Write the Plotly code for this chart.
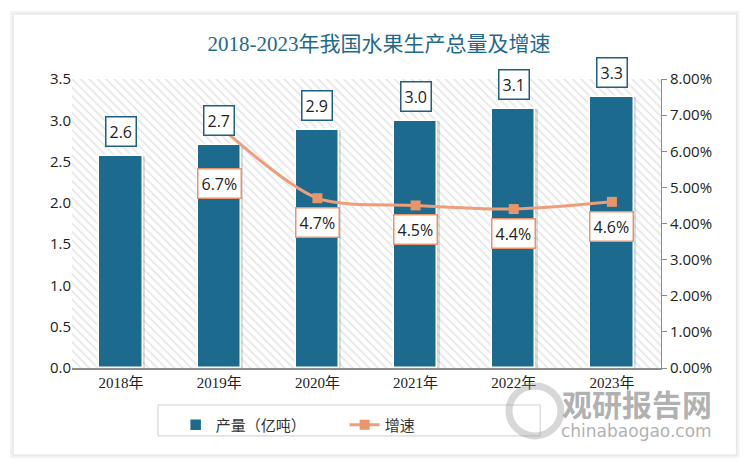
import plotly.graph_objects as go

years = ["2018年", "2019年", "2020年", "2021年", "2022年", "2023年"]
output = [2.57, 2.70, 2.88, 2.99, 3.14, 3.28]          # 产量（亿吨）
growth = [None, 6.7, 4.7, 4.5, 4.4, 4.6]               # 增速 (%)
y_max = 3.5
y2_max = 8.0

BLUE = "#1C6B8F"
ORANGE = "#EE9E7A"
ORANGE_DARK = "#E8956C"

fig = go.Figure()

# hatched plot background
fig.add_trace(go.Bar(
    x=years, y=[y_max] * len(years), width=1,
    marker=dict(color="white", line=dict(width=0),
                pattern=dict(shape="\\", fgcolor="#cdcdcd", bgcolor="white", size=6, solidity=0.3)),
    showlegend=False, hoverinfo="skip"))

# soft bar shadow
fig.add_trace(go.Bar(
    x=years, y=output, width=0.47, offset=-0.225,
    marker=dict(color="rgba(0,0,0,0.13)", line=dict(width=0)),
    showlegend=False, hoverinfo="skip"))

fig.add_trace(go.Bar(
    x=years, y=output, width=0.44, name="产量（亿吨）",
    marker=dict(color=BLUE, line=dict(color="white", width=1.5))))

fig.add_trace(go.Scatter(
    x=years, y=growth, yaxis="y2", name="增速", mode="lines+markers",
    line=dict(color=ORANGE, width=3, shape="spline", smoothing=0.8),
    marker=dict(symbol="square", size=10, color=ORANGE_DARK),
    connectgaps=False))

annotations = []
for x, v in zip(years, output):
    annotations.append(dict(
        x=x, y=v, xref="x", yref="y", text=f"{v:.1f}", showarrow=False,
        yanchor="bottom", yshift=9, bgcolor="white", bordercolor="#1F5F7F",
        borderwidth=1.5, borderpad=3,
        font=dict(family="Open Sans, Liberation Sans", size=16, color="#222")))
for x, g in zip(years, growth):
    if g is None:
        continue
    annotations.append(dict(
        x=x, y=g, xref="x", yref="y2", text=f"{g:.1f}%", showarrow=False,
        yanchor="top", yshift=-9 if x != "2019年" else -42,
        bgcolor="white", bordercolor=ORANGE_DARK,
        borderwidth=1.5, borderpad=3,
        font=dict(family="Open Sans, Liberation Sans", size=16, color="#222")))

# watermark
annotations.append(dict(xref="paper", yref="paper", x=1.09, y=-0.121, text="<b>观研报告网</b>",
                        showarrow=False, xanchor="right", yanchor="middle",
                        font=dict(family="Noto Sans CJK SC", size=30, color="rgba(110,110,110,0.55)")))
annotations.append(dict(xref="paper", yref="paper", x=1.09, y=-0.218, text="chinabaogao.com",
                        showarrow=False, xanchor="right", yanchor="middle",
                        font=dict(family="DejaVu Sans", size=17, color="rgba(110,110,110,0.55)")))

shapes = [
    dict(type="rect", xref="paper", yref="paper", x0=-0.1, x1=1.128, y0=-0.301, y1=1.225,
         line=dict(color="rgba(0,0,0,0.05)", width=6), fillcolor="rgba(0,0,0,0)", layer="below"),
    dict(type="rect", xref="paper", yref="paper", x0=-0.1, x1=1.128, y0=-0.301, y1=1.225,
         line=dict(color="#e2e2e2", width=1), fillcolor="white", layer="below"),
    # legend frame
    dict(type="rect", xref="paper", yref="paper", x0=0.146, x1=0.795, y0=-0.235, y1=-0.128,
         line=dict(color="#cfcfcf", width=1), fillcolor="rgba(0,0,0,0)"),
    # watermark logo
    dict(type="circle", xref="paper", yref="paper", x0=0.742, x1=0.830, y0=-0.235, y1=-0.062,
         line=dict(color="rgba(140,140,140,0.35)", width=7)),
]

# The page body has an 8px margin, so the figure is sized to fit inside the window.
fig.update_layout(
    width=742, height=463,
    margin=dict(l=64, r=89, t=71, b=103),
    paper_bgcolor="white", plot_bgcolor="white",
    barmode="overlay", bargap=0,
    title=dict(text="2018-2023年我国水果生产总量及增速", x=0.5, xanchor="center", y=0.924, yanchor="middle",
               font=dict(family="Liberation Serif, Noto Sans CJK SC", size=21, color="#1F6A8A")),
    xaxis=dict(showgrid=False, showline=True, linecolor="#8c8c8c", linewidth=1.5, ticks="",
               tickfont=dict(family="Liberation Serif, Noto Sans CJK SC", size=15, color="#222")),
    yaxis=dict(range=[0, y_max], dtick=0.5, tickformat=".1f", showgrid=False, zeroline=False,
               showline=False, ticks="", ticklen=0,
               tickfont=dict(family="Open Sans, Liberation Sans", size=15, color="#222")),
    yaxis2=dict(range=[0, y2_max], dtick=1, overlaying="y", side="right", showgrid=False,
                zeroline=False, showline=True, linecolor="#8c8c8c", linewidth=1,
                ticks="outside", ticklen=5, tickcolor="#8c8c8c",
                ticksuffix="%", tickformat=".2f",
                tickfont=dict(family="Open Sans, Liberation Sans", size=15, color="#222")),
    legend=dict(orientation="h", x=0.176, xanchor="left", y=-0.14, yanchor="top",
                borderwidth=0, bgcolor="rgba(255,255,255,0)",
                entrywidth=124, font=dict(family="Noto Sans CJK SC", size=15, color="#333")),
    annotations=annotations, shapes=shapes,
)

fig.write_html("out.html")
